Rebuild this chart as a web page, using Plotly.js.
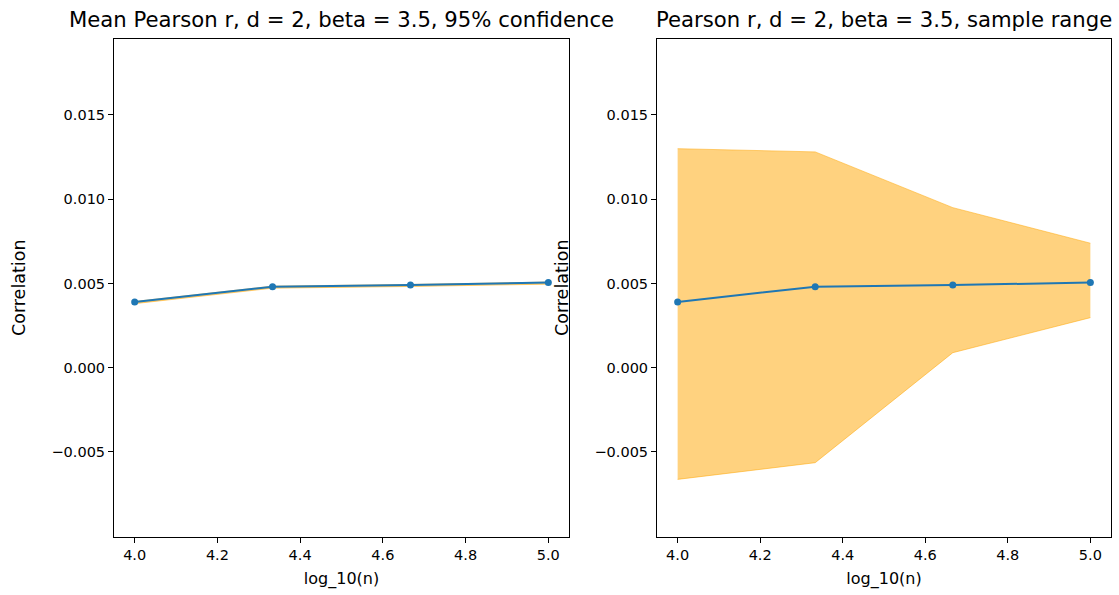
<!DOCTYPE html>
<html>
<head>
<meta charset="utf-8">
<script src="https://cdn.plot.ly/plotly-3.0.1.min.js"></script>
<style>html,body{margin:0;padding:0;background:#fff;}#chart{width:1119px;height:595px;}</style>
</head>
<body>
<div id="chart"></div>
<script>
// Data
const logN = [4.0, 4.3333, 4.6667, 5.0];
const meanR = [0.00390, 0.00481, 0.00491, 0.00505];
const ciLower = [0.00380, 0.00472, 0.00482, 0.00496];
const ciUpper = [0.00393, 0.00484, 0.00494, 0.00508];
const rangeMin = [-0.00663, -0.00564, 0.00089, 0.00297];
const rangeMax = [0.01300, 0.01281, 0.00950, 0.00739];
const titles = ["Mean Pearson r, d = 2, beta = 3.5, 95% confidence", "Pearson r, d = 2, beta = 3.5, sample range"];
const xTitle = "log_10(n)";
const yTitle = "Correlation";

const blue = '#1f77b4';
const bandFill = 'rgba(255,165,0,0.5)';
const font = 'DejaVu Sans, sans-serif';

function band(lo, hi, xa, ya) {
  return [
    {x: logN, y: lo, xaxis: xa, yaxis: ya, type: 'scatter', mode: 'lines',
     line: {color: bandFill, width: 1}, hoverinfo: 'skip', showlegend: false},
    {x: logN, y: hi, xaxis: xa, yaxis: ya, type: 'scatter', mode: 'lines', fill: 'tonexty',
     fillcolor: bandFill, line: {color: bandFill, width: 1}, hoverinfo: 'skip', showlegend: false}
  ];
}
function meanLine(xa, ya) {
  return {x: logN, y: meanR, xaxis: xa, yaxis: ya, type: 'scatter', mode: 'lines+markers',
    line: {color: blue, width: 2}, marker: {color: blue, size: 7}, showlegend: false};
}

const data = [
  ...band(ciLower, ciUpper, 'x', 'y'), meanLine('x', 'y'),
  ...band(rangeMin, rangeMax, 'x2', 'y2'), meanLine('x2', 'y2')
];

const yRange = [-0.01005, 0.01951];
const xRange = [3.95, 5.05];
function xax(domain, anchor) {
  return {domain: domain, anchor: anchor, range: xRange, tickvals: [4.0, 4.2, 4.4, 4.6, 4.8, 5.0],
    tickformat: '.1f', ticks: 'outside', ticklen: 5, tickcolor: '#000', showline: true, mirror: true,
    linecolor: '#000', linewidth: 1, showgrid: false, zeroline: false,
    tickfont: {family: font, size: 14.5, color: '#000'},
    title: {text: xTitle, font: {family: font, size: 16, color: '#000'}, standoff: 10}};
}
function yax(domain, anchor) {
  return {domain: domain, anchor: anchor, range: yRange, tickvals: [-0.005, 0, 0.005, 0.01, 0.015],
    tickformat: '.3f', ticks: 'outside', ticklen: 5, tickcolor: '#000', showline: true, mirror: true,
    linecolor: '#000', linewidth: 1, showgrid: false, zeroline: false,
    tickfont: {family: font, size: 14.5, color: '#000'}};
}

const d1 = [114/1119, 569/1119];
const d2 = [657/1119, 1111/1119];

const layout = {
  width: 1119, height: 595,
  margin: {l: 0, r: 0, t: 39, b: 58},
  paper_bgcolor: '#fff', plot_bgcolor: '#fff',
  font: {family: font, color: '#000'},
  xaxis: xax(d1, 'y'), yaxis: yax([0, 1], 'x'),
  xaxis2: xax(d2, 'y2'), yaxis2: yax([0, 1], 'x2'),
  annotations: [
    {text: titles[0], xref: 'paper', yref: 'paper', x: (d1[0] + d1[1]) / 2, y: 1, yshift: 5,
     xanchor: 'center', yanchor: 'bottom', showarrow: false, font: {family: font, size: 21.2, color: '#000'}},
    {text: titles[1], xref: 'paper', yref: 'paper', x: (d2[0] + d2[1]) / 2, y: 1, yshift: 5,
     xanchor: 'center', yanchor: 'bottom', showarrow: false, font: {family: font, size: 21.2, color: '#000'}},
    {text: yTitle, xref: 'paper', yref: 'paper', x: 19/1119, y: 0.5, textangle: -90,
     xanchor: 'center', yanchor: 'middle', showarrow: false, font: {family: font, size: 17.5, color: '#000'}},
    {text: yTitle, xref: 'paper', yref: 'paper', x: 562/1119, y: 0.5, textangle: -90,
     xanchor: 'center', yanchor: 'middle', showarrow: false, font: {family: font, size: 17.5, color: '#000'}}
  ]
};

Plotly.newPlot('chart', data, layout, {displayModeBar: false, staticPlot: true});
</script>
</body>
</html>
